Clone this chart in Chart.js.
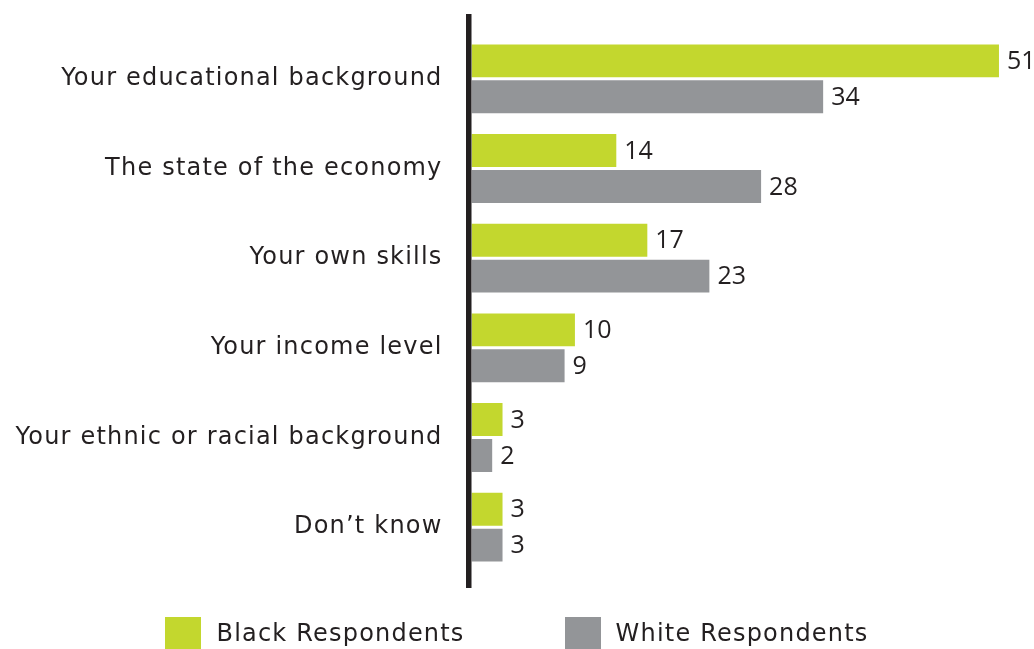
<!DOCTYPE html>
<html>
<head>
<meta charset="utf-8">
<script src="https://cdn.jsdelivr.net/npm/chart.js@4.4.1/dist/chart.umd.min.js"></script>
<style>
  body { margin: 0; background: #fff; }
  #wrap { position: relative; width: 1034px; height: 649px; }
  #legend { position: absolute; top: 617px; left: 0; width: 1034px; display: flex; justify-content: center;
            font-family: "DejaVu Sans", sans-serif; font-size: 24px; letter-spacing: 1.2px; color: #231f20; }
  .item { display: flex; align-items: center; height: 32px; }
  .item + .item { margin-left: 100px; }
  .swatch { width: 36px; height: 32px; margin-right: 15px; }
</style>
</head>
<body>
<div id="wrap">
  <canvas id="chart"></canvas>
  <div id="legend"></div>
</div>
<script>
// Survey answers, in percent
var categories = [
    "Your educational background",
    "The state of the economy",
    "Your own skills",
    "Your income level",
    "Your ethnic or racial background",
    "Don\u2019t know"
];
var blackValues = [51, 14, 17, 10, 3, 3];
var whiteValues = [34, 28, 23, 9, 2, 3];
var seriesNames = ["Black Respondents", "White Respondents"];
var seriesColors = ["#c3d72e", "#939598"];

var textColor = "#231f20";
var fontFamily = '"DejaVu Sans", sans-serif';
var numberFont = '"Open Sans", sans-serif';

// Wider tracking for all canvas text
var tracking = {
    id: "tracking",
    beforeDraw: function (chart) {
        chart.ctx.letterSpacing = "1.2px";
    }
};

// Thick vertical baseline drawn just left of the bars
var baseLine = {
    id: "baseLine",
    afterDatasetsDraw: function (chart) {
        var ctx = chart.ctx;
        var x = chart.chartArea.left;
        ctx.save();
        ctx.fillStyle = textColor;
        ctx.fillRect(x - 5.5, 14, 5.5, 574);
        ctx.restore();
    }
};

// Value printed at the end of each bar
var valueLabels = {
    id: "valueLabels",
    afterDatasetsDraw: function (chart) {
        var ctx = chart.ctx;
        ctx.save();
        ctx.font = "25px " + numberFont;
        ctx.letterSpacing = "0px";
        ctx.fillStyle = textColor;
        ctx.textAlign = "left";
        ctx.textBaseline = "middle";
        chart.data.datasets.forEach(function (ds, i) {
            var meta = chart.getDatasetMeta(i);
            meta.data.forEach(function (bar, j) {
                ctx.fillText(ds.data[j], bar.x + 8, bar.y + 1);
            });
        });
        ctx.restore();
    }
};

new Chart(document.getElementById("chart"), {
    type: "bar",
    data: {
        labels: categories,
        datasets: [{
            label: seriesNames[0],
            data: blackValues,
            backgroundColor: seriesColors[0],
            barPercentage: 0.917,
            categoryPercentage: 0.8
        }, {
            label: seriesNames[1],
            data: whiteValues,
            backgroundColor: seriesColors[1],
            barPercentage: 0.917,
            categoryPercentage: 0.8
        }]
    },
    options: {
        indexAxis: "y",
        responsive: true,
        maintainAspectRatio: false,
        animation: false,
        layout: { padding: { top: 34, bottom: 77, right: 4, left: 0 } },
        plugins: {
            legend: { display: false },
            tooltip: { enabled: false }
        },
        scales: {
            x: {
                display: false,
                min: 0,
                max: 54
            },
            y: {
                grid: { display: false, drawTicks: false },
                border: { display: false },
                ticks: {
                    color: textColor,
                    padding: 29,
                    font: { family: fontFamily, size: 24 }
                },
                afterFit: function (scale) {
                    scale.width = 471.5;
                    scale.paddingTop = 0;
                    scale.paddingBottom = 0;
                }
            }
        }
    },
    plugins: [tracking, baseLine, valueLabels]
});

// Legend below the chart
var legend = document.getElementById("legend");
seriesNames.forEach(function (name, i) {
    var item = document.createElement("div");
    item.className = "item";
    item.innerHTML = '<span class="swatch" style="background:' + seriesColors[i] + '"></span>' + name;
    legend.appendChild(item);
});
</script>
</body>
</html>
